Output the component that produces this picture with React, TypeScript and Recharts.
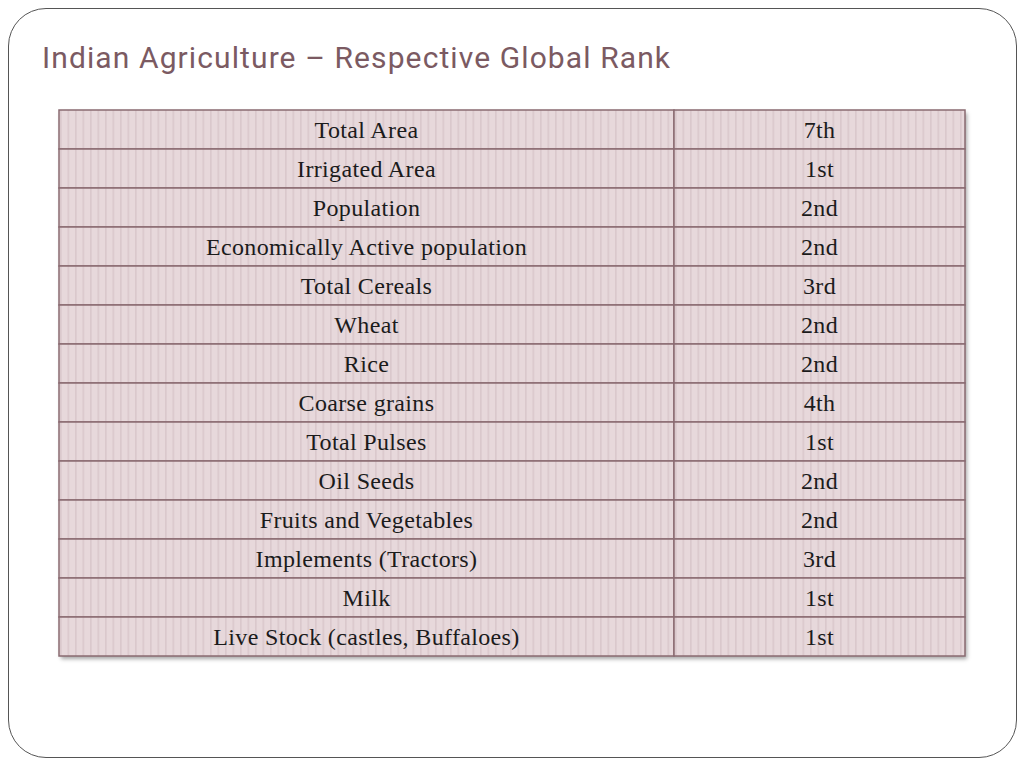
import React from "react";
import { BarChart, Bar, XAxis, YAxis, LabelList } from "recharts";

const items = [
  "Total Area",
  "Irrigated Area",
  "Population",
  "Economically Active population",
  "Total Cereals",
  "Wheat",
  "Rice",
  "Coarse grains",
  "Total Pulses",
  "Oil Seeds",
  "Fruits and Vegetables",
  "Implements (Tractors)",
  "Milk",
  "Live Stock (castles, Buffaloes)",
];

const ranks = ["7th", "1st", "2nd", "2nd", "3rd", "2nd", "2nd", "4th", "1st", "2nd", "2nd", "3rd", "1st", "1st"];

// column widths of the table, in px
const COL_ITEM = 615;
const COL_RANK = 291;

const rows = items.map((item, i) => ({ item, rank: ranks[i] }));

const BORDER = "#8a6b72";
const SERIF = "'Liberation Serif', 'DejaVu Serif', serif";

const App = () => (
  <div style={{ position: "absolute", left: 0, top: 0, width: 1024, height: 768, background: "#fff" }}>
    <div
      style={{
        position: "absolute",
        left: 8,
        top: 8,
        width: 1007,
        height: 748,
        border: "1px solid #555",
        borderRadius: 38,
      }}
    />
    <div
      style={{
        position: "absolute",
        left: 42,
        top: 40,
        fontFamily: "Roboto, sans-serif",
        fontSize: 30,
        letterSpacing: 1.1,
        color: "#7b5a62",
        whiteSpace: "nowrap",
      }}
    >
      Indian Agriculture – Respective Global Rank
    </div>
    <div
      style={{
        position: "absolute",
        left: 59,
        top: 110,
        width: 906,
        height: 546,
        boxShadow: "2px 3px 4px rgba(0,0,0,0.35)",
      }}
    />
    <div style={{ position: "absolute", left: 0, top: 0 }}>
      <BarChart
        width={1024}
        height={768}
        data={rows}
        layout="vertical"
        barCategoryGap={0}
        margin={{ top: 110, left: 59, right: 59, bottom: 112 }}
      >
        <defs>
          <pattern id="stripes" width="7.5" height="10" patternUnits="userSpaceOnUse">
            <rect width="7.5" height="10" fill="#e7d8db" />
            <rect width="1.6" height="10" fill="#dac8cc" />
          </pattern>
        </defs>
        <XAxis type="number" domain={[0, COL_ITEM + COL_RANK]} hide />
        <YAxis type="category" dataKey="item" hide />
        <Bar
          dataKey={() => COL_ITEM}
          stackId="t"
          fill="url(#stripes)"
          stroke={BORDER}
          strokeWidth={1.5}
          isAnimationActive={false}
        >
          <LabelList
            dataKey="item"
            position="center"
            fill="#1b1b1b"
            fontSize={24}
            fontFamily={SERIF}
            letterSpacing={0.35}
          />
        </Bar>
        <Bar
          dataKey={() => COL_RANK}
          stackId="t"
          fill="url(#stripes)"
          stroke={BORDER}
          strokeWidth={1.5}
          isAnimationActive={false}
        >
          <LabelList
            dataKey="rank"
            position="center"
            fill="#1b1b1b"
            fontSize={24}
            fontFamily={SERIF}
            letterSpacing={0.35}
          />
        </Bar>
      </BarChart>
    </div>
  </div>
);

export default App;
